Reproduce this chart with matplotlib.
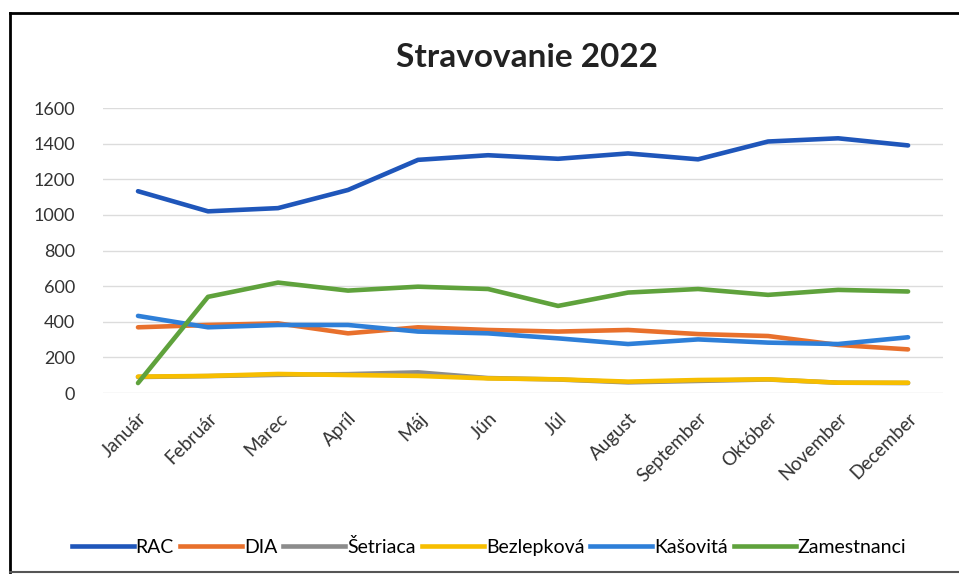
import numpy as np
import matplotlib.pyplot as plt
from matplotlib.lines import Line2D

plt.rcParams['font.family'] = ['Lato', 'DejaVu Sans']

mesiace = ['Január', 'Február', 'Marec', 'Apríl', 'Máj', 'Jún', 'Júl',
           'August', 'September', 'Október', 'November', 'December']
rac = [1133, 1020, 1038, 1140, 1309, 1335, 1315, 1345, 1312, 1412, 1430, 1390]
dia = [369, 382, 391, 335, 369, 354, 345, 354, 331, 320, 270, 245]
setriaca = [90, 95, 102, 106, 116, 84, 76, 60, 68, 76, 58, 56]
bezlepkova = [92, 96, 107, 101, 96, 82, 77, 64, 73, 77, 58, 58]
kasovita = [433, 369, 382, 382, 345, 335, 307, 275, 301, 283, 275, 313]
zamestnanci = [56, 540, 620, 575, 597, 584, 489, 564, 584, 551, 579, 570]

nazvy = ['RAC', 'DIA', 'Šetriaca', 'Bezlepková', 'Kašovitá', 'Zamestnanci']
farby = ['#1F56BA', '#E8702C', '#8C8C8C', '#F7BE00', '#2E7FD8', '#5FA23C']
serie = [rac, dia, setriaca, bezlepkova, kasovita, zamestnanci]

fig = plt.figure(figsize=(9.59, 5.82), dpi=100)
ax = fig.add_axes([0.1074, 0.3247, 0.876, 0.4897])

x = np.arange(len(mesiace))
for vals, c, n in zip(serie, farby, nazvy):
    ax.plot(x, vals, color=c, lw=3.3, label=n, solid_capstyle='round')

ax.set_xlim(-0.5, 11.5)
ax.set_ylim(0, 1600)
ax.set_yticks(range(0, 1601, 200))
ax.yaxis.grid(True, color='#DCDCDC', lw=1)
ax.set_axisbelow(True)
for s in ax.spines.values():
    s.set_visible(False)
ax.tick_params(length=0, labelsize=13, colors='#333333')
ax.tick_params(axis='y', pad=20)
ax.set_xticks(x)
ax.set_xticklabels(mesiace, rotation=45, ha='right', va='top',
                   rotation_mode='anchor', fontsize=13.5)
ax.tick_params(axis='x', pad=12)

fig.text(0.549, 0.902, 'Stravovanie 2022', ha='center', va='center',
         fontsize=24, fontweight='bold', color='#222222')

handles = [Line2D([0], [0], color=c, lw=3.3) for c in farby]
fig.legend(handles, nazvy, loc='center', bbox_to_anchor=(0.51, 0.06),
           ncol=6, frameon=False, fontsize=14, handlelength=3.2,
           handletextpad=0.1, columnspacing=0.3)

# ram okolo grafu
fig.add_artist(Line2D([10/959, 1], [1 - 13/582, 1 - 13/582], color='black', lw=2))
fig.add_artist(Line2D([10/959, 10/959], [1 - 13/582, 1 - 572/582], color='black', lw=2))
fig.add_artist(Line2D([10/959, 1], [1 - 572/582, 1 - 572/582], color='#555555', lw=1.5))

fig.savefig('out.png', dpi=100)
